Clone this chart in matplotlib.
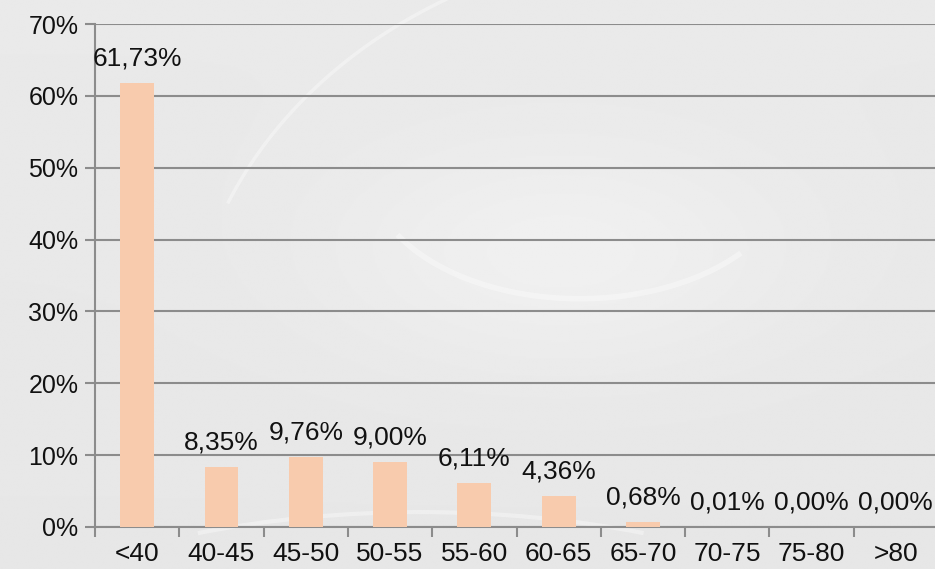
import numpy as np
import matplotlib.pyplot as plt
from matplotlib.patches import Arc

# Data
categories = ["<40", "40-45", "45-50", "50-55", "55-60", "60-65", "65-70", "70-75", "75-80", ">80"]
values = [61.73, 8.35, 9.76, 9.00, 6.11, 4.36, 0.68, 0.01, 0.00, 0.00]
yticks = [0, 10, 20, 30, 40, 50, 60, 70]

plt.rcParams['font.family'] = ['Liberation Sans', 'DejaVu Sans']

fig = plt.figure(figsize=(9.35, 5.69), dpi=100)
fig.patch.set_facecolor('#e8e8e8')

# Background: soft light-grey "glass" texture
bg = fig.add_axes([0, 0, 1, 1], zorder=0)
yy, xx = np.mgrid[0:1:300j, 0:1:500j]
shade = 0.915 + 0.03 * np.exp(-((xx - 0.6) ** 2 / 0.06 + (yy - 0.45) ** 2 / 0.04)) \
    - 0.01 * yy
bg.imshow(shade, cmap='gray', vmin=0, vmax=1, extent=[0, 1, 0, 1], aspect='auto')
for cx, cy, w, h, t1, t2, lw in [(0.75, 0.35, 1.1, 1.5, 100, 150, 2.5),
                                 (0.62, 0.70, 0.45, 0.45, 210, 320, 4),
                                 (0.45, -0.35, 1.2, 0.9, 60, 120, 3)]:
    bg.add_patch(Arc((cx, cy), w, h, theta1=t1, theta2=t2, color='white', lw=lw, alpha=0.35))
bg.set_xlim(0, 1)
bg.set_ylim(0, 1)
bg.axis('off')

ax = fig.add_axes([95 / 935, 42 / 569, 843 / 935, 503 / 569], zorder=1)
ax.patch.set_alpha(0)

x = np.arange(len(categories))
ax.bar(x, values, width=0.4, color='#f8cbad', zorder=3)

for xi, v in zip(x, values):
    ax.annotate(f"{v:.2f}%".replace('.', ','), (xi, v), xytext=(0, 9),
                textcoords='offset points', ha='center', va='bottom',
                fontsize=19, color='#111111', zorder=4)

ax.set_xlim(-0.5, len(categories) - 0.5)
ax.set_ylim(0, 70)
ax.set_yticks(yticks)
ax.set_yticklabels([f"{t}%" for t in yticks])
ax.yaxis.grid(True, color='#8c8c8c', lw=1.5)
ax.set_axisbelow(True)

ax.set_xticks(x)
ax.set_xticklabels(categories)
ax.set_xticks(np.arange(-0.5, len(categories), 1.0), minor=True)
ax.tick_params(axis='x', which='major', length=0, pad=11, labelsize=19, labelcolor='#111111')
ax.tick_params(axis='x', which='minor', length=7, width=1.5, color='#8c8c8c')
ax.tick_params(axis='y', length=7, width=1.5, color='#8c8c8c', pad=5,
               labelsize=18, labelcolor='#111111')

for side in ['top', 'right']:
    ax.spines[side].set_visible(False)
for side in ['left', 'bottom']:
    ax.spines[side].set_color('#8c8c8c')
    ax.spines[side].set_linewidth(1.5)

fig.savefig('out.png', dpi=100, facecolor=fig.get_facecolor())
